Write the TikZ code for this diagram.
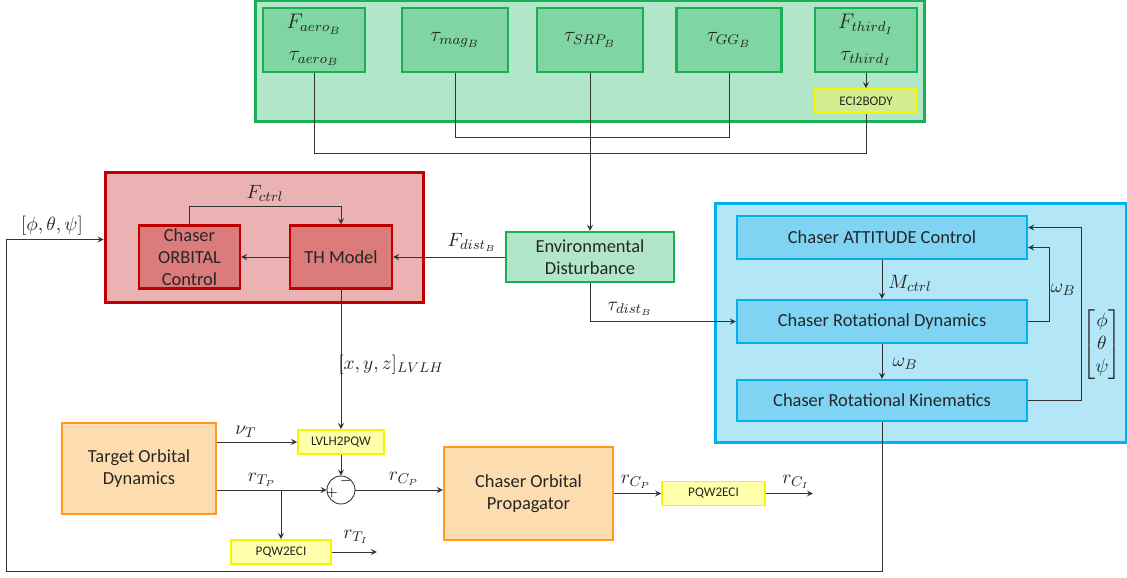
\documentclass[tikz,border=0pt]{standalone}
\usepackage{amsmath, amssymb}
\usepackage{fontspec}
\setmainfont{Carlito}
\usetikzlibrary{arrows.meta, positioning, calc}

\definecolor{grnline}{HTML}{1AAF54}
\definecolor{grnlight}{HTML}{B2E6C8}
\definecolor{grnbox}{HTML}{7FD6A3}
\definecolor{redline}{HTML}{C00000}
\definecolor{redlight}{HTML}{EAB2B3}
\definecolor{redbox}{HTML}{DB7B7B}
\definecolor{blueline}{HTML}{00B0F0}
\definecolor{bluelight}{HTML}{B3E6F7}
\definecolor{bluebox}{HTML}{7FD4F4}
\definecolor{orgline}{HTML}{FF9A1F}
\definecolor{orgfill}{HTML}{FDDDAF}
\definecolor{yelline}{HTML}{F5F500}
\definecolor{yelfill}{HTML}{FFFFAA}
\definecolor{ecifill}{HTML}{D4EE8F}

\begin{document}
\begin{tikzpicture}[x=0.02cm, y=-0.02cm, >=stealth,
    outer/.style={line width=1.7pt, inner sep=0pt},
    block/.style={line width=1.4pt, inner sep=0pt, align=center, text=black!85, font=\fontsize{10.5}{12.5}\selectfont},
    distbox/.style={block, draw=grnline, fill=grnbox, font=\fontsize{12}{16}\selectfont, minimum height=1.28cm},
    conv/.style={line width=1.1pt, draw=yelline, fill=yelfill, inner sep=0pt, minimum height=0.48cm, font=\fontsize{7.5}{9}\selectfont, text=black!85},
    sig/.style={line width=0.5pt, draw=black!80},
    lbl/.style={font=\fontsize{11}{13}\selectfont, text=black!85, inner sep=1pt}]
    \useasboundingbox (0,0) rectangle (1127,578);

    % environment models
    \node[outer, draw=grnline, fill=grnlight, minimum width=13.4cm, minimum height=2.44cm] (envgroup) at (590,61) {};
    \node[distbox, minimum width=2.04cm] (aero) at (314,40) {$F_{aero_B}$\\[2pt] $\tau_{aero_B}$};
    \node[distbox, minimum width=2.12cm] (mag) at (455,40) {$\tau_{mag_B}$};
    \node[distbox, minimum width=2.12cm] (srp) at (590,40) {$\tau_{SRP_B}$};
    \node[distbox, minimum width=2.1cm] (gg) at (729,40) {$\tau_{GG_B}$};
    \node[distbox, minimum width=2.04cm] (third) at (866,40) {$F_{third_I}$\\[2pt] $\tau_{third_I}$};
    \node[conv, fill=ecifill, minimum width=2.04cm] (eci2body) at (866,101) {ECI2BODY};
    \draw[sig, ->] (third) -- (eci2body);
    \draw[sig] (aero.south) -- ++(0,80) -| (eci2body.south);
    \draw[sig] (mag.south) -- ++(0,64) -| (gg.south);

    \node[block, draw=grnline, fill=grnlight, minimum width=3.36cm, minimum height=1.0cm] (env) at (590,257) {Environmental\\Disturbance};
    \draw[sig, ->] (srp.south) -- (env.north);

    % orbital control
    \node[outer, draw=redline, fill=redlight, minimum width=6.38cm, minimum height=2.62cm] (orbit) at (264.5,237.5) {};
    \node[block, draw=redline, fill=redbox, minimum width=2.02cm, minimum height=1.26cm] (orbctrl) at (189.5,257) {Chaser\\ORBITAL\\Control};
    \node[block, draw=redline, fill=redbox, minimum width=2.04cm, minimum height=1.26cm] (thmodel) at (341,257) {TH Model};
    \draw[sig, ->] (orbctrl.north) -- ++(0,-18) -| (thmodel.north);
    \node[lbl] (fctrl) at (265,193) {$F_{ctrl}$};
    \draw[sig, ->] (thmodel.west) -- (orbctrl.east);
    \draw[sig, ->] (env.west) -- (thmodel.east);
    \node[lbl] (fdist) at (472,242) {$F_{dist_B}$};

    % attitude loop
    \node[outer, draw=blueline, fill=bluelight, minimum width=8.24cm, minimum height=4.8cm] (attitude) at (921,323) {};
    \node[block, draw=blueline, fill=bluebox, minimum width=5.8cm, minimum height=0.86cm] (att) at (882,237.5) {Chaser ATTITUDE Control};
    \node[block, draw=blueline, fill=bluebox, minimum width=5.8cm, minimum height=0.86cm] (dyn) at (882,321.5) {Chaser Rotational Dynamics};
    \node[block, draw=blueline, fill=bluebox, minimum width=5.8cm, minimum height=0.82cm] (kin) at (882,400.5) {Chaser Rotational Kinematics};
    \draw[sig, ->] (att) -- (dyn);
    \node[lbl] (mctrl) at (910,283) {$M_{ctrl}$};
    \draw[sig, ->] (dyn) -- (kin);
    \node[lbl] (wbdown) at (905,364) {$\omega_B$};
    \draw[sig, ->] (dyn.east) -- ++(21,0) |- ($(att.east)+(0,10)$);
    \node[lbl] (wbback) at (1063,290) {$\omega_B$};
    \draw[sig, ->] (kin.east) -- ++(53,0) |- ($(att.east)+(0,-10)$);
    \node[lbl] (euler) at (1102,345) {$\begin{bmatrix}\phi\\ \theta\\ \psi\end{bmatrix}$};
    \draw[sig, ->] (env.south) |- (dyn.west);
    \node[lbl] (taudist) at (630,309) {$\tau_{dist_B}$};
    \draw[sig, ->] (kin.south) -- ++(0,149) -| ($(orbit.west)+(-97,2)$) -- ($(orbit.west)+(0,2)$);
    \node[lbl] (angles) at (52,226) {$[\phi,\theta,\psi]$};

    % orbital propagation
    \node[block, draw=orgline, fill=orgfill, minimum width=3.08cm, minimum height=1.82cm] (target) at (139,468.5) {Target Orbital\\Dynamics};
    \node[conv, minimum width=1.72cm] (lvlh) at (341,442) {LVLH2PQW};
    \node[circle, draw=black!80, line width=0.5pt, fill=white, minimum size=0.56cm, inner sep=0pt] (sum) at (341,490) {};
    \node[font=\fontsize{8}{8}\selectfont, inner sep=0pt] (plus) at (332,493) {$+$};
    \node[font=\fontsize{8}{8}\selectfont, inner sep=0pt] (minus) at (346,481) {$-$};
    \node[block, draw=orgline, fill=orgfill, minimum width=3.38cm, minimum height=1.86cm] (prop) at (528.5,493.5) {Chaser Orbital\\Propagator};
    \node[conv, minimum width=2.0cm] (pqwtarget) at (281,552) {PQW2ECI};
    \node[conv, minimum width=2.06cm] (pqwchaser) at (713.5,493.5) {PQW2ECI};

    \draw[sig, ->] (thmodel.south) -- (lvlh.north);
    \node[lbl] (xyz) at (391,365) {$[x,y,z]_{LVLH}$};
    \draw[sig, ->] (target.east |- lvlh.west) -- (lvlh.west);
    \node[lbl] (vt) at (246,432) {$\nu_T$};
    \draw[sig, ->] (target.east |- sum.west) -- (sum.west);
    \node[lbl] (rtp) at (262,480) {$r_{T_P}$};
    \coordinate (branch) at (pqwtarget.north |- sum.west);
    \draw[sig, ->] (branch) -- (pqwtarget.north);
    \draw[sig, ->] (pqwtarget.east) -- ++(45,0) coordinate (rtiend);
    \node[lbl] (rti) at (356,537) {$r_{T_I}$};
    \draw[sig, ->] (lvlh.south) -- (sum.north);
    \draw[sig, ->] (sum.east) -- (prop.west |- sum.east);
    \node[lbl] (rcp) at (404,479) {$r_{C_P}$};
    \draw[sig, ->] (prop.east |- pqwchaser.west) -- (pqwchaser.west);
    \node[lbl] (rcpout) at (636,482) {$r_{C_P}$};
    \draw[sig, ->] (pqwchaser.east) -- ++(47,0) coordinate (rciend);
    \node[lbl] (rci) at (796,482) {$r_{C_I}$};
\end{tikzpicture}
\end{document}
